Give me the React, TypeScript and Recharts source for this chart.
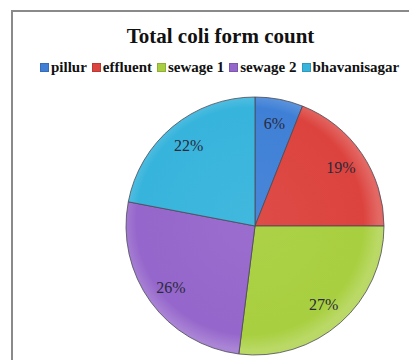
import React from 'react';
import { PieChart, Pie, Cell } from 'recharts';

const sites = ['pillur', 'effluent', 'sewage 1', 'sewage 2', 'bhavanisagar'];
const shares = [6, 19, 27, 26, 22];
const colors = ['#3f80d6', '#dc433e', '#a8cf3f', '#9566cb', '#37b4dc'];

const data = sites.map((name, i) => ({ name, value: shares[i] }));

const RAD = Math.PI / 180;

const renderLabel = (props: any) => {
    const { cx, cy, midAngle, percent } = props;
    const r = 104;
    const x = cx + r * Math.cos(-midAngle * RAD);
    const y = cy + r * Math.sin(-midAngle * RAD);
    return (
        <text x={x} y={y} textAnchor="middle" dominantBaseline="central"
            fontFamily="'Liberation Serif', serif" fontSize={16} fill="#2a2a3c">
            {`${Math.round(percent * 100)}%`}
        </text>
    );
};

const App: React.FC = () => {
    return (
        <div style={{ position: 'relative', width: 417, height: 360, margin: '-8px 0 0 -8px', background: '#fff', overflow: 'hidden' }}>
            {/* chart frame, cut off at the right and bottom like the source */}
            <div style={{ position: 'absolute', left: 11, top: 10, width: 420, height: 360, borderLeft: '2px solid #8a8a8a', borderTop: '2px solid #8a8a8a' }} />
            <div style={{ position: 'absolute', left: 0, width: 441, top: 24, textAlign: 'center', fontFamily: "'Liberation Serif', serif", fontWeight: 'bold', fontSize: 21, color: '#111' }}>
                Total coli form count
            </div>
            <div style={{ position: 'absolute', left: 40, top: 59, display: 'flex', alignItems: 'center', whiteSpace: 'nowrap', fontFamily: "'Liberation Serif', serif", fontWeight: 'bold', fontSize: 15, color: '#111' }}>
                {sites.map((s, i) => (
                    <span key={s} style={{ display: 'inline-flex', alignItems: 'center', marginRight: 5 }}>
                        <span style={{ display: 'inline-block', width: 7, height: 7, background: colors[i], marginRight: 2, border: '1px solid rgba(0,0,0,0.15)' }} />
                        {s}
                    </span>
                ))}
            </div>
            <PieChart width={417} height={360} style={{ position: 'absolute', left: 0, top: 0 }}>
                <defs>
                    {colors.map((c, i) => (
                        <radialGradient key={i} id={`shade${i}`} cx={250} cy={221} r={129} gradientUnits="userSpaceOnUse">
                            <stop offset="0%" stopColor={c} stopOpacity={0.95} />
                            <stop offset="88%" stopColor={c} />
                            <stop offset="100%" stopColor={c} stopOpacity={0.8} />
                        </radialGradient>
                    ))}
                </defs>
                <Pie
                    data={data}
                    dataKey="value"
                    nameKey="name"
                    cx={250}
                    cy={221}
                    outerRadius={129}
                    startAngle={90}
                    endAngle={-270}
                    stroke="#4a4a55"
                    strokeWidth={0.8}
                    label={renderLabel}
                    labelLine={false}
                    isAnimationActive={false}
                >
                    {data.map((d, i) => (
                        <Cell key={d.name} fill={`url(#shade${i})`} />
                    ))}
                </Pie>
            </PieChart>
        </div>
    );
};

export default App;
